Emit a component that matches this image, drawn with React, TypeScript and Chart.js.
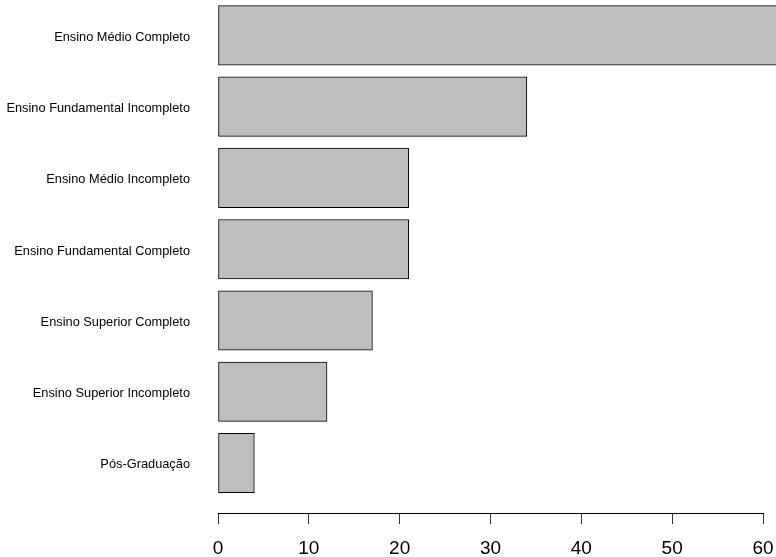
import React, { useEffect, useRef } from "react";
import { Chart, registerables } from "chart.js";

Chart.register(...registerables);

const categories: string[] = [
  "Ensino Médio Completo",
  "Ensino Fundamental Incompleto",
  "Ensino Médio Incompleto",
  "Ensino Fundamental Completo",
  "Ensino Superior Completo",
  "Ensino Superior Incompleto",
  "Pós-Graduação",
];

const counts: number[] = [63, 34, 21, 21, 17, 12, 4];

const xTicks: number[] = [0, 10, 20, 30, 40, 50, 60];

const FONT = "'Liberation Sans', Arial, Helvetica, sans-serif";

export default function App() {
  const canvasRef = useRef<HTMLCanvasElement | null>(null);

  useEffect(() => {
    const canvas = canvasRef.current;
    if (!canvas) return;
    const chart = new Chart(canvas, {
      type: "bar",
      data: {
        datasets: [
          {
            data: counts.map((v, i) => ({ x: v, y: i })) as any,
            backgroundColor: "#BEBEBE",
            borderColor: "#000000",
            borderWidth: 1,
            borderSkipped: false,
            barThickness: 59.4,
            clip: false as any,
          },
        ],
      },
      options: {
        indexAxis: "y",
        responsive: false,
        animation: false,
        events: [],
        layout: { padding: { left: 0, right: 13, top: 0, bottom: 0 } },
        plugins: {
          legend: { display: false },
          title: { display: false },
          tooltip: { enabled: false },
        },
        scales: {
          x: {
            type: "linear",
            position: "bottom",
            min: xTicks[0],
            max: xTicks[xTicks.length - 1],
            afterBuildTicks: (scale: any) => {
              scale.ticks = xTicks.map((v) => ({ value: v }));
            },
            afterFit: (scale: any) => {
              scale.height = 44;
              scale.paddingLeft = 0;
              scale.paddingRight = 0;
            },
            ticks: {
              color: "#000000",
              font: { family: FONT, size: 19 },
              padding: 13,
              maxRotation: 0,
              autoSkip: false,
            },
            grid: {
              display: true,
              drawOnChartArea: false,
              drawTicks: true,
              tickLength: 11,
              color: "#333333",
              lineWidth: 1,
            },
            border: { display: true, color: "#000000", width: 1 },
          },
          y: {
            type: "linear",
            position: "left",
            reverse: true,
            offset: false,
            bounds: "data",
            min: -0.496,
            max: 6.702,
            afterBuildTicks: (scale: any) => {
              scale.ticks = categories.map((_, i) => ({ value: i }));
            },
            afterFit: (scale: any) => {
              scale.width = 218;
              scale.paddingTop = 0;
              scale.paddingBottom = 0;
            },
            ticks: {
              autoSkip: false,
              color: "#000000",
              font: { family: FONT, size: 12.8 },
              padding: 28,
              labelOffset: 2,
              callback: (value: any) => {
                const idx = Math.round(Number(value));
                return categories[idx] !== undefined ? categories[idx] : "";
              },
            },
            grid: { display: false, drawTicks: false, offset: false },
            border: { display: false },
          },
        },
      } as any,
    });
    return () => chart.destroy();
  }, []);

  return (
    <canvas
      ref={canvasRef}
      width={776}
      height={557}
      style={{ position: "absolute", left: 0, top: 0, display: "block", background: "#ffffff" }}
    />
  );
}
